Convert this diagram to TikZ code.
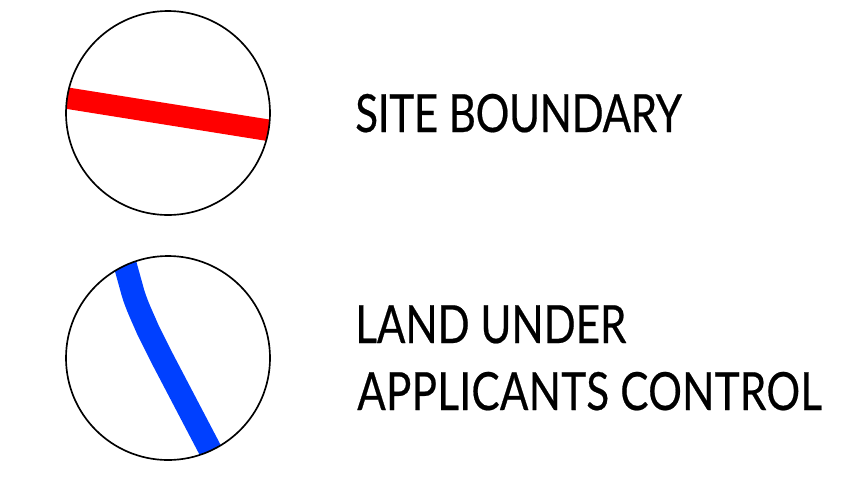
\documentclass[tikz,border=0pt]{standalone}
\usepackage{fontspec}
\setmainfont[FakeStretch=0.8,FakeBold=0.4]{Lato}
\definecolor{boundaryred}{RGB}{255,0,0}
\definecolor{controlblue}{RGB}{0,64,255}
\newdimen\ringsize \ringsize=153pt
\tikzset{ring/.style={draw=black,line width=1.25pt,circle,minimum size=\ringsize,inner sep=0pt},
lab/.style={anchor=base west,inner sep=0pt,font=\fontsize{39.5}{39.5}\selectfont}}
\begin{document}
\begin{tikzpicture}[x=0.75pt,y=-0.75pt]
\useasboundingbox[fill=white] (0,0) rectangle (855,479);
\begin{scope}
\clip (168,113) circle (76.5pt);
\fill[boundaryred] (60,86.2) -- (280,121.2) -- (276,142.4) -- (56,107.2) -- cycle;
\end{scope}
\begin{scope}
\clip (168,358) circle (76.5pt);
\draw[line width=17.4pt,controlblue,line join=round] (120,246) -- (133,293) .. controls (137,306) and (142,316) .. (148,330) -- (162,358) -- (217,463);
\end{scope}
\node[ring] (a) at (168,113) {};
\node[ring] (b) at (168,358) {};
\node[lab] (t1) at (355,132) {\addfontfeature{LetterSpace=-0.6}SITE BOUNDARY};
\node[lab] (t2) at (355,343) {LAND UNDER};
\node[lab] (t3) at (357,410) {\addfontfeature{LetterSpace=0.6}APPLICANTS CONTROL};
\end{tikzpicture}
\end{document}
